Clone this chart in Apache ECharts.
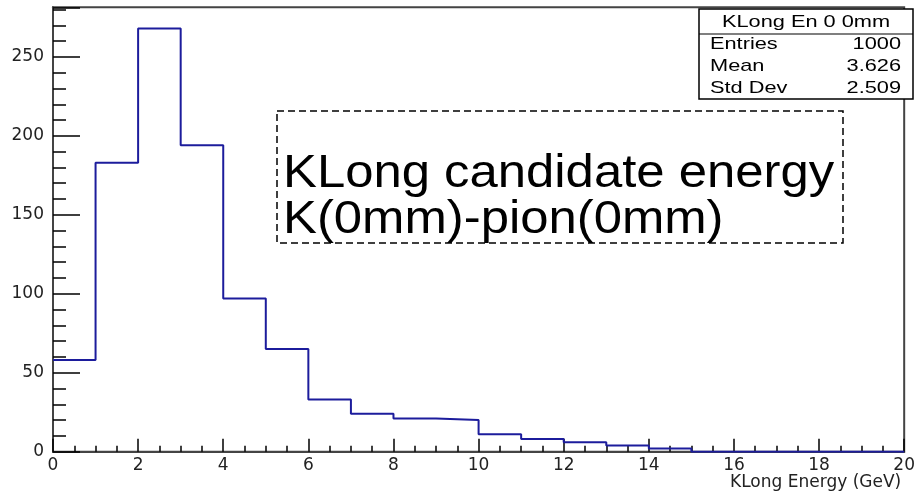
<!DOCTYPE html>
<html>
<head>
<meta charset="utf-8">
<script src="https://cdn.jsdelivr.net/npm/echarts@6/dist/echarts.min.js"></script>
<style>html,body{margin:0;padding:0;background:#fff;}#c{width:918px;height:495px;}</style>
</head>
<body>
<div id="c"></div>
<script>
// Histogram data: KLong candidate energy (GeV), 1 GeV bins from 0 to 20
const binEdges = [0,1,2,3,4,5,6,7,8,9,10,11,12,13,14,15,16,17,18,19,20];
const counts   = [58,183,268,194,97,65,33,24,21,20,11,8,6,4,2,0,0,0,0,0];

const statsTitle  = 'KLong En 0 0mm';
const statsLabels = ['Entries', 'Mean', 'Std Dev'];
const statsValues = ['1000', '3.626', '2.509'];

const noteLines = ['KLong candidate energy', 'K(0mm)-pion(0mm)'];
const xAxisTitle = 'KLong Energy (GeV)';

const xMin = 0, xMax = 20, xStep = 2;
const yMin = 0, yMax = 281.4, yStep = 50;

// step points: [lowEdge, count] ... then final edge
const points = counts.map((c, i) => [binEdges[i], c]);
points.push([binEdges[binEdges.length - 1], counts[counts.length - 1]]);

const chart = echarts.init(document.getElementById('c'), null, {renderer: 'canvas'});

const SX = 1.28;
const graphics = [];
// stats box
graphics.push({type: 'rect', z: 100, shape: {x: 699, y: 9, width: 214, height: 90},
  style: {fill: '#fff', stroke: '#000', lineWidth: 1.5}});
graphics.push({type: 'line', z: 101, shape: {x1: 699, y1: 34, x2: 913, y2: 34},
  style: {stroke: '#000', lineWidth: 1.2}});
graphics.push({type: 'text', z: 102, x: 806, y: 22, scaleX: SX,
  style: {text: statsTitle, font: '17px "Liberation Sans", Arial, sans-serif', fill: '#000', align: 'center', verticalAlign: 'middle'}});
statsLabels.forEach((t, i) => {
  graphics.push({type: 'text', z: 102, x: 710, y: 44 + i * 22, scaleX: SX,
    style: {text: t, font: '17px "Liberation Sans", Arial, sans-serif', fill: '#000', align: 'left', verticalAlign: 'middle'}});
  graphics.push({type: 'text', z: 102, x: 901, y: 44 + i * 22, scaleX: SX,
    style: {text: statsValues[i], font: '17px "Liberation Sans", Arial, sans-serif', fill: '#000', align: 'right', verticalAlign: 'middle'}});
});
// dashed note box
graphics.push({type: 'rect', z: 100, shape: {x: 277, y: 111, width: 566, height: 132},
  style: {fill: 'rgba(0,0,0,0)', stroke: '#000', lineWidth: 1.5, lineDash: [7, 4]}});
noteLines.forEach((t, i) => {
  graphics.push({type: 'text', z: 102, x: 283, y: 174 + i * 46, scaleX: 1.105,
    style: {text: t, font: '46px "Liberation Sans", Arial, sans-serif', fill: '#000', align: 'left', verticalAlign: 'middle'}});
});

chart.setOption({
  animation: false,
  backgroundColor: '#fff',
  grid: {left: 53, right: 2, top: 7.3, bottom: 43.3, show: true, borderColor: '#444', borderWidth: 2, backgroundColor: 'transparent'},
  xAxis: {
    type: 'value', min: xMin, max: xMax, interval: xStep,
    axisLine: {show: true, onZero: false, lineStyle: {color: '#444', width: 2}},
    axisTick: {show: true, inside: true, length: 13, lineStyle: {color: '#000', width: 1.5}},
    minorTick: {show: true, splitNumber: 4, length: 6, lineStyle: {color: '#000', width: 1.5}},
    splitLine: {show: false},
    axisLabel: {color: '#222', fontFamily: '"DejaVu Sans", sans-serif', fontSize: 17, margin: 5},
    name: xAxisTitle, nameLocation: 'end', nameGap: 0,
    nameTextStyle: {color: '#222', fontFamily: '"DejaVu Sans", sans-serif', fontSize: 17, align: 'right', verticalAlign: 'top', padding: [22, 3, 0, 0]}
  },
  yAxis: {
    type: 'value', min: yMin, max: yMax, interval: yStep,
    axisLine: {show: true, lineStyle: {color: '#444', width: 2}},
    axisTick: {show: true, inside: true, length: 27, lineStyle: {color: '#000', width: 1.5}},
    minorTick: {show: true, splitNumber: 5, length: 13, lineStyle: {color: '#000', width: 1.5}},
    splitLine: {show: false},
    axisLabel: {color: '#222', fontFamily: '"DejaVu Sans", sans-serif', fontSize: 17, margin: 9, showMaxLabel: false}
  },
  series: [{
    type: 'line', step: 'end', data: points, symbol: 'none', clip: true,
    lineStyle: {color: '#1c1c9c', width: 2}, z: 5
  }],
  graphic: graphics
});
</script>
</body>
</html>
